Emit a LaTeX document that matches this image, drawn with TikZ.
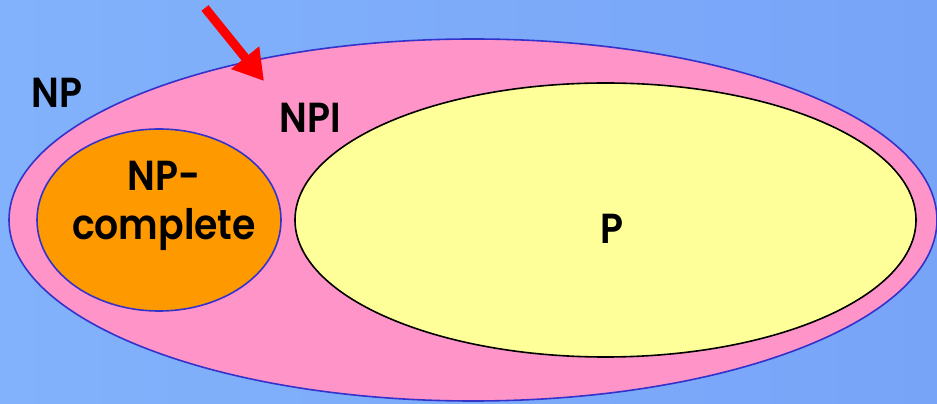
\documentclass[tikz,border=0pt]{standalone}
\usepackage{fontspec}
\setmainfont{Poppins}[BoldFont=* SemiBold, BoldFeatures={FakeStretch=0.9}]
\usetikzlibrary{arrows.meta,shapes.geometric}
\definecolor{bgL}{RGB}{130,178,251}
\definecolor{bgR}{RGB}{120,164,248}
\definecolor{npPink}{RGB}{255,148,200}
\definecolor{npcOrange}{RGB}{255,153,0}
\definecolor{pYellow}{RGB}{255,255,153}
\definecolor{edgeBlue}{RGB}{51,51,204}
\definecolor{arrowRed}{RGB}{255,0,0}
\tikzset{
  setshape/.style={ellipse, inner sep=0pt, line width=1.6pt},
  lbl/.style={font=\bfseries\fontsize{42}{49}\selectfont, text=black, inner sep=0pt, align=center}
}
\begin{document}
\begin{tikzpicture}[x=1pt,y=1pt]
\useasboundingbox (0,0) rectangle (937,404);
\shade[left color=bgL, right color=bgR] (0,0) rectangle (937,404);
\node[setshape, draw=edgeBlue, fill=npPink, minimum width=928pt, minimum height=362pt] (np) at (473,184) {};
\node[setshape, draw=edgeBlue, fill=npcOrange, minimum width=244pt, minimum height=182pt] (npc) at (159,184) {};
\node[setshape, draw=black, fill=pYellow, minimum width=621pt, minimum height=274pt] (p) at (605.5,184) {};
\node[lbl] (npl) at (57,311) {NP};
\node[lbl] (npil) at (310,286) {NPI};
\node[lbl] (npcl) at (164,198) {NP-\\complete};
\node[lbl] (pl) at (612,175) {P};
\coordinate (arrstart) at (205,396);
\coordinate (arrend) at (264,323);
\draw[arrowRed, line width=9pt, -{Triangle[length=30pt,width=34pt]}] (arrstart) -- (arrend);
\end{tikzpicture}
\end{document}
